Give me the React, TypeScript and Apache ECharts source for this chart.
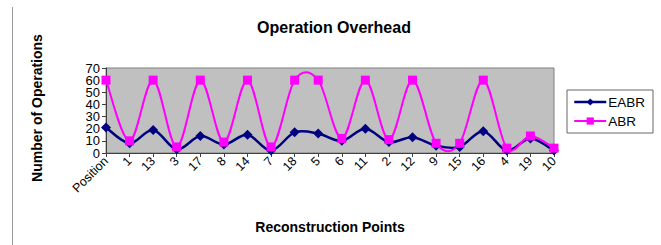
import React, { useEffect, useRef } from "react";
import * as echarts from "echarts";

const categories = ["Position", "1", "13", "3", "17", "8", "14", "7", "18", "5", "6", "11", "2", "12", "9", "15", "16", "4", "19", "10"];
const eabrValues = [21, 8, 19, 3, 14, 7, 15, 2, 17, 16, 10, 20, 9, 13, 6, 5, 18, 2, 12, 2];
const abrValues = [60, 10, 60, 5, 60, 9, 60, 5, 60, 60, 12, 60, 11, 60, 8, 8, 60, 4, 14, 4];
const yTickValues = [0, 10, 20, 30, 40, 50, 60, 70];
const yTicks = { min: 0, max: 70, interval: 10 };

const FONT = "Liberation Sans, Arial, sans-serif";
const EABR_COLOR = "#000080";
const ABR_COLOR = "#ff00ff";

// Excel-like smoothed line: Catmull-Rom segments drawn through the chart's own scales
function curveSeries(name: string, values: number[], color: string, width: number, z: number) {
  const n = values.length;
  return {
    name,
    type: "custom",
    z,
    silent: true,
    data: values.map((v, i) => [i, v]),
    encode: { x: 0, y: 1 },
    renderItem: (params: any, api: any) => {
      const i = params.dataIndex;
      if (i >= n - 1) return null;
      const p = (k: number) => {
        const kk = Math.max(0, Math.min(n - 1, k));
        return api.coord([kk, values[kk]]);
      };
      const P0 = p(i - 1);
      const P1 = p(i);
      const P2 = p(i + 1);
      const P3 = p(i + 2);
      return {
        type: "bezierCurve",
        shape: {
          x1: P1[0],
          y1: P1[1],
          x2: P2[0],
          y2: P2[1],
          cpx1: P1[0] + (P2[0] - P0[0]) / 6,
          cpy1: P1[1] + (P2[1] - P0[1]) / 6,
          cpx2: P2[0] - (P3[0] - P1[0]) / 6,
          cpy2: P2[1] - (P3[1] - P1[1]) / 6,
        },
        style: { stroke: color, lineWidth: width, fill: "none" },
      };
    },
  };
}

export default function App() {
  const ref = useRef<HTMLDivElement>(null);
  useEffect(() => {
    if (!ref.current) return;
    const chart = echarts.init(ref.current, null, { renderer: "svg" });
    const baseGraphics: any[] = [
      { type: "line", shape: { x1: 12.5, y1: 7, x2: 12.5, y2: 245 }, style: { stroke: "#999999", lineWidth: 1 } },
      {
        type: "text",
        x: 334,
        y: 27,
        style: { text: "Operation Overhead", font: `bold 16px ${FONT}`, fill: "#000", align: "center", verticalAlign: "middle" },
      },
      {
        type: "text",
        x: 330,
        y: 227,
        style: { text: "Reconstruction Points", font: `bold 14px ${FONT}`, fill: "#000", align: "center", verticalAlign: "middle" },
      },
      {
        type: "text",
        x: 37,
        y: 108,
        rotation: Math.PI / 2,
        style: { text: "Number of Operations", font: `bold 14px ${FONT}`, fill: "#000", align: "center", verticalAlign: "middle" },
      },
    ];
    chart.setOption({
      animation: false,
      backgroundColor: "#ffffff",
      textStyle: { fontFamily: FONT },
      grid: {
        left: 106,
        right: 107,
        top: 68,
        bottom: 92,
        show: true,
        backgroundColor: "#c0c0c0",
        borderColor: "#808080",
        borderWidth: 1,
      },
      legend: {
        orient: "vertical",
        left: 567,
        top: 90,
        padding: [5, 8, 5, 6],
        itemGap: 5,
        itemWidth: 32,
        itemHeight: 9,
        borderColor: "#666666",
        borderWidth: 1,
        backgroundColor: "#ffffff",
        textStyle: { fontSize: 13.5, color: "#000", fontFamily: FONT, padding: [0, 0, 0, -3] },
        data: [
          { name: "EABR", lineStyle: { color: EABR_COLOR, width: 2.5, opacity: 1 } },
          { name: "ABR", lineStyle: { color: ABR_COLOR, width: 2, opacity: 1 } },
        ],
      },
      graphic: baseGraphics,
      xAxis: {
        type: "category",
        data: categories,
        boundaryGap: false,
        axisLine: { lineStyle: { color: "#404040", width: 1 } },
        axisTick: { show: true, interval: 0, length: 4, lineStyle: { color: "#404040" } },
        axisLabel: { interval: 0, rotate: 45, fontSize: 12.5, color: "#000", fontFamily: FONT, margin: 6 },
        splitLine: { show: false },
      },
      yAxis: {
        type: "value",
        min: yTicks.min,
        max: yTicks.max,
        interval: yTicks.interval,
        axisLine: { show: true, lineStyle: { color: "#404040", width: 1 } },
        axisTick: { show: true, length: 4, lineStyle: { color: "#404040" } },
        axisLabel: { show: false },
        splitLine: { show: false },
      },
      series: [
        curveSeries("EABR line", eabrValues, EABR_COLOR, 2.5, 2),
        curveSeries("ABR line", abrValues, ABR_COLOR, 2, 3),
        {
          name: "EABR",
          type: "line",
          data: eabrValues,
          symbol: "diamond",
          symbolSize: 10,
          itemStyle: { color: EABR_COLOR },
          lineStyle: { color: EABR_COLOR, width: 2.5, opacity: 0 },
          z: 4,
        },
        {
          name: "ABR",
          type: "line",
          data: abrValues,
          symbol: "rect",
          symbolSize: 9,
          itemStyle: { color: ABR_COLOR },
          lineStyle: { color: ABR_COLOR, width: 2, opacity: 0 },
          z: 5,
        },
      ],
    });
    // y tick labels placed through the axis scale (tight packing as in the reference)
    const labelGraphics = yTickValues.map((v) => {
      const py = chart.convertToPixel({ yAxisIndex: 0 }, v) as number;
      return {
        type: "text",
        x: 100,
        y: py,
        style: { text: String(v), font: `13px ${FONT}`, fill: "#000", align: "right", verticalAlign: "middle" },
      };
    });
    chart.setOption({ graphic: [...baseGraphics, ...labelGraphics] });
    return () => chart.dispose();
  }, []);
  return <div ref={ref} style={{ position: "fixed", left: 0, top: 0, width: 661, height: 245 }} />;
}
